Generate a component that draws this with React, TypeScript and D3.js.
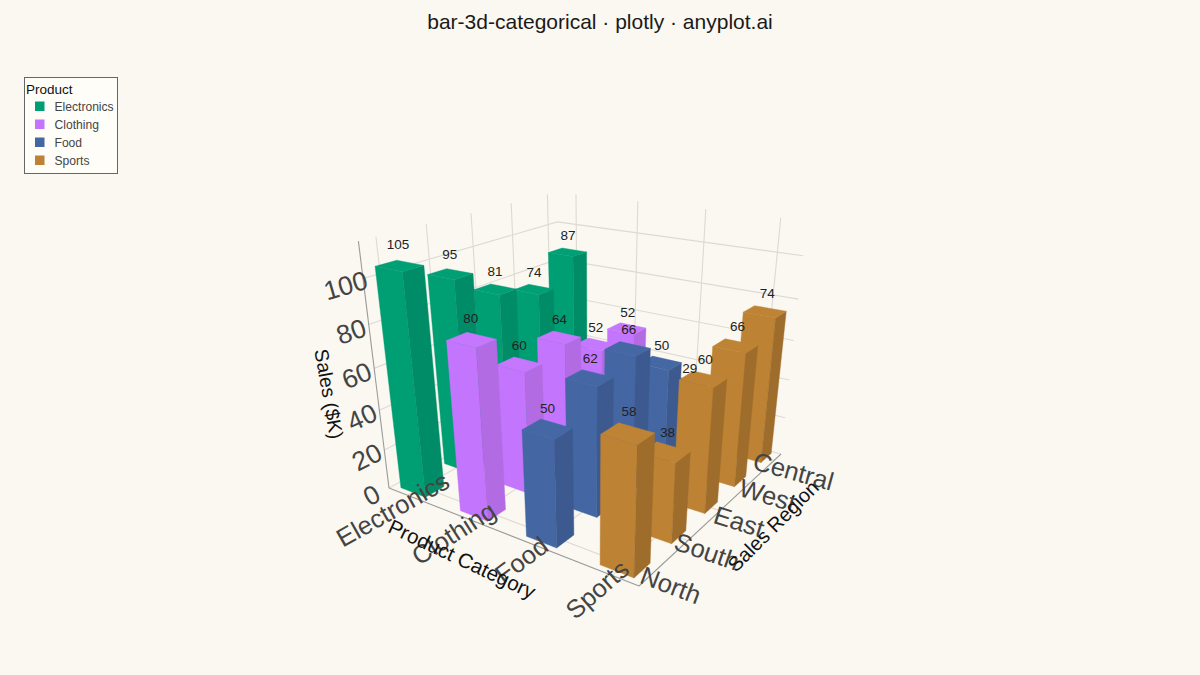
import React from "react";
import * as d3 from "d3";

const categories = ["Electronics", "Clothing", "Food", "Sports"];
const regions = ["North", "South", "East", "West", "Central"];
const electronics = [105, 95, 81, 74, 87];
const clothing = [80, 60, 64, 52, 52];
const food = [50, 62, 66, 50, 29];
const sports = [58, 38, 60, 66, 74];
const seriesValues = [electronics, clothing, food, sports];
const zTicks = [0, 20, 40, 60, 80, 100];

const frontColors = ["#009E73", "#C475FD", "#4467A3", "#BD8233"];
const sideColors = ["#008C66", "#B36BE4", "#3C5A90", "#9F6D2B"];
const topColors = ["#009F74", "#C577FE", "#4568A5", "#BE8334"];

const WIDTH = 1200;
const HEIGHT = 675;
const ZMAX = 115.5;
const FONT = '"Liberation Sans", Arial, sans-serif';

const uScale = d3.scalePoint<string>().domain(categories).range([0.09, 0.91]);
const vScale = d3.scalePoint<string>().domain(regions).range([0.07, 0.94]);
const wScale = d3.scaleLinear().domain([0, 100]).range([0, 1]);

// Perspective camera fitted to the reference's box corners.
function project(u: number, v: number, w: number): [number, number] {
  const d = 1 - 0.18 * u + 0.25 * v - 0.113 * w;
  return [
    (389 + 135 * u + 311.7 * v - 67 * w) / d,
    (488 - 7.5 * u + 5.3 * v - 241 * w) / d,
  ];
}

const lineGen = d3.line<[number, number, number]>()
  .x((p) => project(p[0], p[1], p[2])[0])
  .y((p) => project(p[0], p[1], p[2])[1]);

const poly = (pts: [number, number, number][]) => lineGen(pts) + "Z";
const seg = (a: [number, number, number], b: [number, number, number]) => lineGen([a, b]) as string;

// Screen angle of a 3D direction through a point, so tick text lies along the box.
function screenAngle(a: [number, number, number], b: [number, number, number]) {
  const p = project(a[0], a[1], a[2]);
  const q = project(b[0], b[1], b[2]);
  return (Math.atan2(q[1] - p[1], q[0] - p[0]) * 180) / Math.PI;
}

const HALF_U = 0.058;
const HALF_V = 0.045;
const W_TOP = wScale(ZMAX);

export default function App() {
  const grid: string[] = [];
  zTicks.forEach((z) => {
    const w = wScale(z);
    grid.push(seg([0, 0, w], [0, 1, w]));
    grid.push(seg([0, 1, w], [1, 1, w]));
  });
  regions.forEach((r) => {
    const v = vScale(r)!;
    grid.push(seg([0, v, 0], [0, v, W_TOP]));
    grid.push(seg([0, v, 0], [1, v, 0]));
  });
  categories.forEach((c) => {
    const u = uScale(c)!;
    grid.push(seg([u, 1, 0], [u, 1, W_TOP]));
    grid.push(seg([u, 0, 0], [u, 1, 0]));
  });

  const bars: React.ReactNode[] = [];
  categories.forEach((c, ci) => {
    const u = uScale(c)!;
    const u0 = u - HALF_U;
    const u1 = u + HALF_U;
    for (let ri = regions.length - 1; ri >= 0; ri--) {
      const v = vScale(regions[ri])!;
      const v0 = v - HALF_V;
      const v1 = v + HALF_V;
      const w = wScale(seriesValues[ci][ri]);
      bars.push(
        <g key={c + ri}>
          <path d={poly([[u0, v0, 0], [u1, v0, 0], [u1, v0, w], [u0, v0, w]])} fill={frontColors[ci]} stroke={frontColors[ci]} strokeWidth={0.4} />
          <path d={poly([[u1, v0, 0], [u1, v1, 0], [u1, v1, w], [u1, v0, w]])} fill={sideColors[ci]} stroke={sideColors[ci]} strokeWidth={0.4} />
          <path d={poly([[u0, v0, w], [u1, v0, w], [u1, v1, w], [u0, v1, w]])} fill={topColors[ci]} stroke={topColors[ci]} strokeWidth={0.4} />
        </g>
      );
    }
  });

  const labels: React.ReactNode[] = [];
  categories.forEach((c, ci) => {
    regions.forEach((r, ri) => {
      const val = seriesValues[ci][ri];
      const [x, y] = project(uScale(c)!, vScale(r)!, wScale(val + 8.8));
      labels.push(
        <text key={c + r} x={x + 0.8} y={y + 4.5} textAnchor="middle" fontSize={13.5} fill="#222">
          {val}
        </text>
      );
    });
  });

  const rotated = (text: string, p: [number, number], angle: number, size: number, fill: string, key: string) => (
    <text
      key={key}
      transform={`translate(${p[0]},${p[1]}) rotate(${angle})`}
      textAnchor="middle"
      dy="0.35em"
      fontSize={size}
      fill={fill}
    >
      {text}
    </text>
  );

  const shift = (p: [number, number], dx: number, dy: number): [number, number] => [p[0] + dx, p[1] + dy];

  return (
    <svg
      width={WIDTH}
      height={HEIGHT}
      viewBox={`0 0 ${WIDTH} ${HEIGHT}`}
      style={{ position: "fixed", left: 0, top: 0, background: "#FAF8F1", fontFamily: FONT }}
    >
      <rect width={WIDTH} height={HEIGHT} fill="#FAF8F1" />
      <text x={600} y={29} textAnchor="middle" fontSize={21} fill="#1a1a1a">
        bar-3d-categorical · plotly · anyplot.ai
      </text>

      <g fill="none" stroke="#DCDAD3" strokeWidth={1.1}>
        {grid.map((d, i) => (
          <path key={i} d={d} />
        ))}
      </g>
      <g fill="none" stroke="#9A9A98" strokeWidth={1.1}>
        <path d={seg([0, 0, 0], [0, 0, W_TOP])} />
        <path d={seg([0, 0, 0], [1, 0, 0])} />
        <path d={seg([1, 0, 0], [1, 1, 0])} />
      </g>

      {bars}
      {labels}

      {zTicks.map((z) => {
        const w = wScale(z);
        const angle = screenAngle([0, 0, w], [0, 1, w]);
        return rotated(String(z), shift(project(0, 0, w), -17.5, 7), angle, 26.5, "#444", "z" + z);
      })}
      {categories.map((c) => {
        const u = uScale(c)!;
        const angle = screenAngle([u, 0, 0], [u, 1, 0]);
        return rotated(c, shift(project(u, 0, 0), -15, 14), angle, 25.5, "#444", "x" + c);
      })}
      {regions.map((r) => {
        const v = vScale(r)!;
        const angle = screenAngle([0, v, 0], [1, v, 0]);
        return rotated(r, shift(project(1, v, 0), 19, 11), angle, 25.5, "#444", "y" + r);
      })}

      {rotated("Sales ($K)", [329, 394], 80, 19.5, "#111", "zt")}
      {rotated("Product Category", [462, 559], 25, 20.5, "#111", "xt")}
      {rotated("Sales Region", [773, 526], -45, 20, "#111", "yt")}

      <g>
        <rect x={24.5} y={77.5} width={93} height={96} fill="#FFFDF8" stroke="#666" strokeWidth={1} />
        <text x={26} y={94} fontSize={13.5} fill="#111">Product</text>
        {categories.map((c, i) => (
          <g key={c}>
            <rect x={35} y={101.5 + i * 18} width={9.5} height={9.5} fill={frontColors[i]} />
            <text x={54.5} y={111 + i * 18} fontSize={12.1} fill="#444">{c}</text>
          </g>
        ))}
      </g>
    </svg>
  );
}
